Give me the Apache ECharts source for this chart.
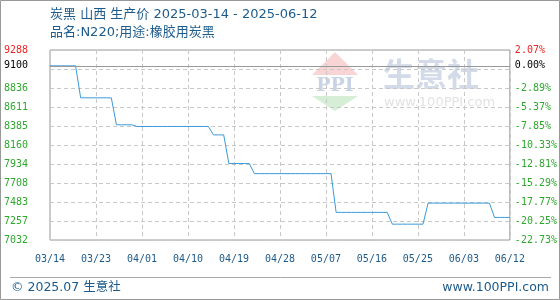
<!DOCTYPE html>
<html><head><meta charset="utf-8">
<script src="https://cdn.jsdelivr.net/npm/echarts@6/dist/echarts.min.js"></script>
<style>html,body{margin:0;padding:0;background:#fff}#c{width:560px;height:300px}</style>
</head><body><div id="c"></div>
<script>
const titleText = '炭黑 山西 生产价 2025-03-14 - 2025-06-12';
const subtitleText = '品名:N220;用途:橡胶用炭黑';
const footerLeft = '© 2025.07 生意社';
const footerRight = 'www.100PPI.com';
const startDate = '2025-03-14';
const dayCount = 91;
// daily prices (yuan/ton), 03/14 .. 06/12
const prices = [
  9100,9100,9100,9100,9100,9100,
  8720,8720,8720,8720,8720,8720,8720,
  8400,8400,8400,8400,
  8380,8380,8380,8380,8380,8380,8380,8380,8380,8380,8380,8380,8380,8380,8380,
  8280,8280,8280,
  7940,7940,7940,7940,7940,
  7820,7820,7820,7820,7820,7820,7820,7820,7820,7820,7820,7820,7820,7820,7820,7820,
  7360,7360,7360,7360,7360,7360,7360,7360,7360,7360,7360,
  7220,7220,7220,7220,7220,7220,7220,
  7470,7470,7470,7470,7470,7470,7470,7470,7470,7470,7470,7470,7470,
  7300,7300,7300,7300
];
const priceTicks = ['7032','7257','7483','7708','7934','8160','8385','8611','8836','9100','9288'];
const pctTicks = ['-22.73%','-20.25%','-17.77%','-15.29%','-12.81%','-10.33%','-7.85%','-5.37%','-2.89%','0.00%','2.07%'];
const basePrice = 9100;
const yMin = 7032, yMax = 9288;

// categories MM/DD
const categories = [];
{
  const d0 = new Date(startDate + 'T00:00:00Z');
  for (let i = 0; i < dayCount; i++) {
    const d = new Date(d0.getTime() + i * 86400000);
    categories.push(String(d.getUTCMonth() + 1).padStart(2, '0') + '/' + String(d.getUTCDate()).padStart(2, '0'));
  }
}
const tickVals = priceTicks.map(Number);
const gridStep = (yMax - yMin) / 10;
const gridVals = [];
for (let i = 0; i <= 10; i++) gridVals.push(yMin + i * gridStep);
function nearestIdx(v) {
  v = Number(v); let best = 0;
  for (let i = 0; i < tickVals.length; i++) if (Math.abs(tickVals[i] - v) < Math.abs(tickVals[best] - v)) best = i;
  return best;
}
function tickColor(v) {
  const i = nearestIdx(v);
  if (i === tickVals.length - 1) return '#ee2222';
  if (priceTicks[i] === String(basePrice)) return '#000000';
  return '#2fa82f';
}
const MONO = '"DejaVu Sans Mono", monospace';
const SANS = '"DejaVu Sans", "Noto Sans CJK SC", sans-serif';
const BLUE = '#1d5b8c';
const dash = () => ({ color: '#c8c8c8', type: [4, 3], width: 1 });

const chart = echarts.init(document.getElementById('c'), null, { renderer: 'canvas' });
chart.setOption({
  animation: false,
  backgroundColor: '#ffffff',
  grid: { left: 50, right: 50, top: 50, bottom: 60, show: true, borderColor: '#999', borderWidth: 1, backgroundColor: 'transparent' },
  xAxis: {
    type: 'category', data: categories, boundaryGap: false,
    axisLine: { show: false }, axisTick: { show: false },
    axisLabel: { interval: 8, showMinLabel: true, showMaxLabel: true, color: BLUE, fontFamily: MONO, fontSize: 10, margin: 14, hideOverlap: false },
    splitLine: { show: true, interval: 8, lineStyle: dash() }
  },
  yAxis: [{
    type: 'value', min: yMin, max: yMax, position: 'left',
    axisLine: { show: false }, axisTick: { show: false }, splitLine: { show: false },
    axisLabel: { customValues: tickVals, margin: 22, fontFamily: MONO, fontSize: 10,
      formatter: v => priceTicks[nearestIdx(v)], color: v => tickColor(v) }
  }, {
    type: 'value', min: yMin, max: yMax, position: 'right',
    axisLine: { show: false }, axisTick: { show: false }, splitLine: { show: false },
    axisLabel: { customValues: tickVals, margin: 5, fontFamily: MONO, fontSize: 10,
      formatter: v => pctTicks[nearestIdx(v)], color: v => tickColor(v) }
  }],
  series: [{
    // horizontal dashed grid lines, positioned through the y axis scale
    type: 'custom', silent: true, clip: false,
    data: gridVals.map(v => [0, v]),
    encode: { x: 0, y: 1 },
    renderItem: (params, api) => {
      const v = api.value(1);
      const p1 = api.coord([0, v]);
      const p2 = api.coord([categories.length - 1, v]);
      const y = Math.round(p1[1]) + 0.5;
      return { type: 'line', shape: { x1: p1[0], y1: y, x2: p2[0], y2: y },
        style: { stroke: '#c8c8c8', lineWidth: 1, lineDash: [4, 3], fill: null } };
    },
    markLine: { silent: true, symbol: 'none', label: { show: false }, animation: false,
      lineStyle: { color: '#999', type: 'solid', width: 1 },
      data: [{ yAxis: basePrice }] }
  }, {
    type: 'line', data: prices, showSymbol: false, symbol: 'none',
    lineStyle: { color: '#3a9ad9', width: 1 }, itemStyle: { color: '#3a9ad9' }
  }],
  graphic: [
    { type: 'rect', silent: true, z: -10, shape: { x: 0.5, y: 0.5, width: 559, height: 299 }, style: { fill: 'none', stroke: '#999', lineWidth: 1 } },
    // watermark
    { type: 'polygon', silent: true, z: -5, shape: { points: [[335, 52], [312, 75], [358, 75]] }, style: { fill: '#f9d4d4' } },
    { type: 'text', silent: true, z: -5, style: { x: 335, y: 86, text: 'PPI', fill: '#c9d3e6', font: 'bold 19px "DejaVu Serif", serif', align: 'center', verticalAlign: 'middle' } },
    { type: 'polygon', silent: true, z: -5, shape: { points: [[312, 96], [358, 96], [335, 111]] }, style: { fill: '#d6eed6' } },
    { type: 'text', silent: true, z: -5, style: { x: 383, y: 74, text: '生意社', fill: '#d3dae8', font: 'bold 32px "Noto Sans CJK SC", sans-serif', verticalAlign: 'middle' } },
    { type: 'text', silent: true, z: -5, style: { x: 384, y: 103, text: 'www.100PPI.com', fill: '#e2e2e2', font: '13px ' + SANS, verticalAlign: 'middle' } },
    // titles
    { type: 'text', silent: true, style: { x: 50, y: 15, text: titleText, fill: BLUE, font: '13px ' + SANS, verticalAlign: 'middle' } },
    { type: 'text', silent: true, style: { x: 50, y: 33, text: subtitleText, fill: BLUE, font: '13px ' + SANS, verticalAlign: 'middle' } },
    // footer
    { type: 'line', silent: true, shape: { x1: 10, y1: 277.5, x2: 551, y2: 277.5 }, style: { stroke: '#aaa', lineWidth: 1 } },
    { type: 'text', silent: true, style: { x: 11, y: 288, text: footerLeft, fill: BLUE, font: '12.5px ' + SANS, verticalAlign: 'middle' } },
    { type: 'text', silent: true, style: { x: 549, y: 288, text: footerRight, fill: BLUE, font: '12.5px ' + SANS, align: 'right', verticalAlign: 'middle' } }
  ]
});
</script></body></html>
